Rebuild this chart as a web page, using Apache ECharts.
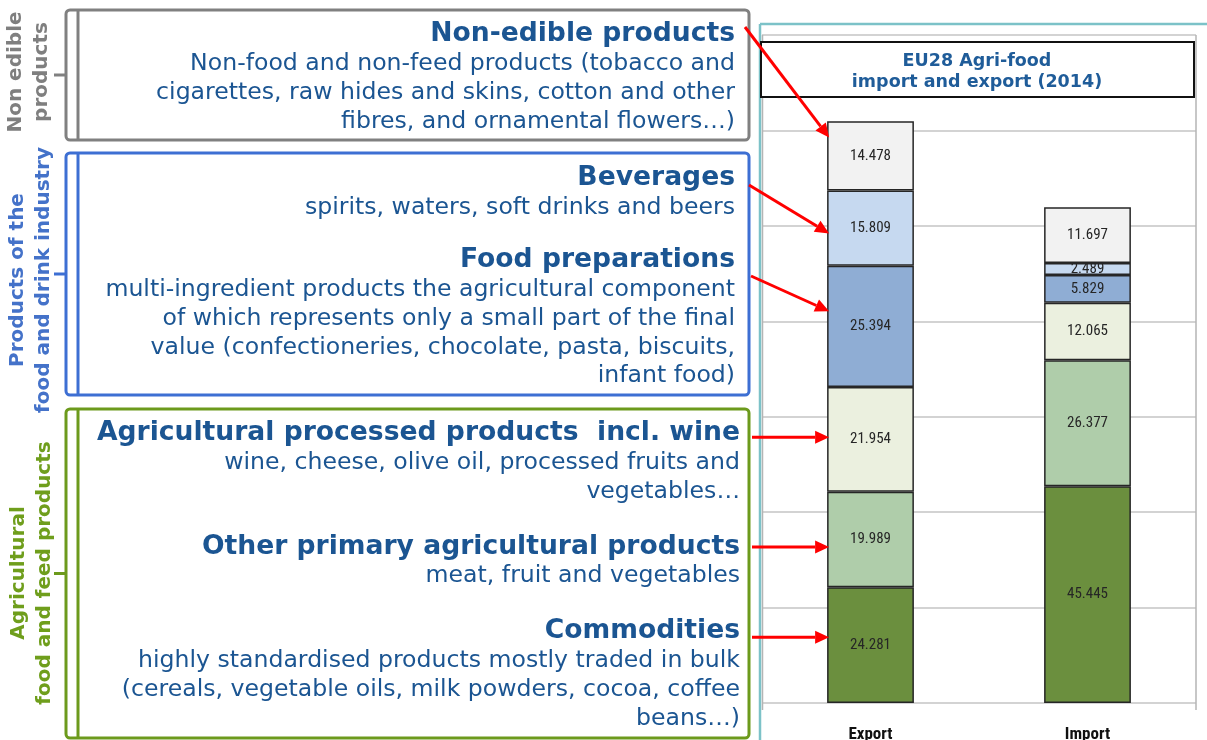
<!DOCTYPE html>
<html>
<head>
<meta charset="utf-8">
<title>EU28 Agri-food import and export (2014)</title>
<script src="https://cdn.jsdelivr.net/npm/echarts@6/dist/echarts.min.js"></script>
<style>
  html, body { margin: 0; padding: 0; background: #fff; }
  #main { width: 1207px; height: 740px; }
</style>
</head>
<body>
<div id="main"></div>
<script>
// data (bn EUR), bottom to top of each stack
var categories = ['Export', 'Import'];
var commodities = [24.281, 45.445];
var otherPrimary = [19.989, 26.377];
var agriProcessed = [21.954, 12.065];
var foodPreparations = [25.394, 5.829];
var beverages = [15.809, 2.489];
var nonEdible = [14.478, 11.697];

var seriesNames = ['Commodities', 'Other primary agricultural products', 'Agricultural processed products',
  'Food preparations', 'Beverages', 'Non-edible products'];
var seriesData = [commodities, otherPrimary, agriProcessed, foodPreparations, beverages, nonEdible];
var seriesColors = ['#6b8f3e', '#afcdaa', '#ebf0df', '#8fadd4', '#c6d9f0', '#f2f2f2'];

// where each red arrow points on the export bar (axis units) and where it starts
var arrowAt = [118.5, 98.4, 82.1, 55.7, 32.7, 13.8];
var arrowFrom = [[745, 27], [749, 185], [751, 276], [752, null], [752, null], [752, null]];

var chart = echarts.init(document.getElementById('main'));

var textBlue = '#1b5592';
var body = 'DejaVu Sans, Verdana, sans-serif';
var narrow = '"Roboto Condensed", "Open Sans Condensed", sans-serif';

var option = {
  animation: false,
  grid: { left: 762, right: 11, top: 35, bottom: 37, outerBoundsMode: 'none', containLabel: false },
  xAxis: {
    type: 'category',
    data: categories,
    axisLine: { show: false },
    axisTick: { show: false },
    axisLabel: {
      margin: 23,
      fontFamily: narrow,
      fontSize: 17,
      fontWeight: 'bold',
      color: '#111'
    }
  },
  yAxis: {
    type: 'value',
    min: 0,
    max: 140,
    interval: 20,
    axisLabel: { show: false },
    axisLine: { show: false },
    axisTick: { show: false },
    splitLine: { lineStyle: { color: '#c4c4c4', width: 1.5 } }
  },
  series: seriesData.map(function (d, i) {
    return {
      name: seriesNames[i],
      type: 'bar',
      stack: 'total',
      barWidth: '40%',
      data: d,
      itemStyle: { color: seriesColors[i], borderColor: '#262626', borderWidth: 1.5 },
      label: {
        show: true,
        position: 'inside',
        formatter: function (p) { return p.value.toFixed(3); },
        fontFamily: narrow,
        fontSize: 15,
        color: '#262626'
      }
    };
  })
};
chart.setOption(option);

function txt(x, y, text, size, bold, color, lh, align) {
  return {
    type: 'text', x: x, y: y, z: 50,
    style: {
      text: text, fill: color, font: (bold ? 'bold ' : '') + size + 'px ' + body,
      textAlign: align || 'right', textVerticalAlign: 'top', lineHeight: lh || size * 1.2
    }
  };
}
function rot(x, y, text, color) {
  return {
    type: 'text', x: x, y: y, rotation: Math.PI / 2, z: 50,
    style: {
      text: text, fill: color, font: 'bold 20px ' + body,
      textAlign: 'center', textVerticalAlign: 'middle', lineHeight: 26
    }
  };
}
function box(y1, y2, color) {
  var mid = (y1 + y2) / 2;
  return [
    { type: 'rect', shape: { x: 66, y: y1, width: 683, height: y2 - y1, r: 4 }, style: { fill: '#fff', stroke: color, lineWidth: 3 } },
    { type: 'line', shape: { x1: 78, y1: y1, x2: 78, y2: y2 }, style: { stroke: color, lineWidth: 3 } },
    { type: 'line', shape: { x1: 54, y1: mid, x2: 66, y2: mid }, style: { stroke: color, lineWidth: 3 } }
  ];
}
function arrow(x1, y1, x2, y2) {
  var dx = x2 - x1, dy = y2 - y1, L = Math.sqrt(dx * dx + dy * dy);
  var ux = dx / L, uy = dy / L, hl = 14, hw = 6.5;
  var bx = x2 - ux * hl, by = y2 - uy * hl;
  return [
    { type: 'line', z: 100, shape: { x1: x1, y1: y1, x2: bx, y2: by }, style: { stroke: '#ff0000', lineWidth: 3 } },
    { type: 'polygon', z: 100, shape: { points: [[x2, y2], [bx - uy * hw, by + ux * hw], [bx + uy * hw, by - ux * hw]] }, style: { fill: '#ff0000' } }
  ];
}

var g = [];
// chart frame
g.push({ type: 'line', shape: { x1: 760, y1: 24, x2: 1207, y2: 24 }, style: { stroke: '#7cc2c8', lineWidth: 2.5 } });
g.push({ type: 'line', shape: { x1: 760, y1: 24, x2: 760, y2: 740 }, style: { stroke: '#7cc2c8', lineWidth: 2.5 } });
g.push({ type: 'line', shape: { x1: 762.5, y1: 35, x2: 762.5, y2: 710 }, style: { stroke: '#b4b4b4', lineWidth: 1.5 } });
g.push({ type: 'line', shape: { x1: 1196, y1: 35, x2: 1196, y2: 710 }, style: { stroke: '#b4b4b4', lineWidth: 1.5 } });
g.push({ type: 'rect', z: 20, shape: { x: 761, y: 42, width: 433, height: 55 }, style: { fill: '#fff', stroke: '#111', lineWidth: 2 } });
g.push(txt(977, 51, 'EU28 Agri-food\nimport and export (2014)', 17.5, true, '#1f5c99', 21, 'center'));

// category boxes
g = g.concat(box(10, 140, '#808080'), box(153, 395, '#3d6fd3'), box(409, 738, '#6c9a1c'));
g.push(rot(29, 72, 'Non edible\nproducts', '#7f7f7f'));
g.push(rot(31, 280, 'Products of the\nfood and drink industry', '#4472c9'));
g.push(rot(32, 573, 'Agricultural\nfood and feed products', '#6f9e1c'));

// descriptions
var hs = 26.6, bs = 23.6, lh = 28.6;
g.push(txt(735, 18, 'Non-edible products', hs, true, textBlue));
g.push(txt(735, 50, 'Non-food and non-feed products (tobacco and\ncigarettes, raw hides and skins, cotton and other\nfibres, and ornamental flowers\u2026)', bs, false, textBlue, lh));
g.push(txt(735, 162, 'Beverages', hs, true, textBlue));
g.push(txt(735, 194, 'spirits, waters, soft drinks and beers', bs, false, textBlue, lh));
g.push(txt(735, 244, 'Food preparations', hs, true, textBlue));
g.push(txt(735, 276, 'multi-ingredient products the agricultural component\nof which represents only a small part of the final\nvalue (confectioneries, chocolate, pasta, biscuits,\ninfant food)', bs, false, textBlue, lh));
g.push(txt(740, 417, 'Agricultural processed products  incl. wine', hs, true, textBlue));
g.push(txt(740, 449, 'wine, cheese, olive oil, processed fruits and\nvegetables\u2026', bs, false, textBlue, lh));
g.push(txt(740, 531, 'Other primary agricultural products', hs, true, textBlue));
g.push(txt(740, 562, 'meat, fruit and vegetables', bs, false, textBlue, lh));
g.push(txt(740, 615, 'Commodities', hs, true, textBlue));
g.push(txt(740, 647, 'highly standardised products mostly traded in bulk\n(cereals, vegetable oils, milk powders, cocoa, coffee\nbeans\u2026)', bs, false, textBlue, lh));

// arrows to the export bar, positioned through the axes
var p0 = chart.convertToPixel({ gridIndex: 0 }, [0, 0]);
var p1 = chart.convertToPixel({ gridIndex: 0 }, [1, 0]);
var barLeft = p0[0] - (p1[0] - p0[0]) * 0.4 / 2;
arrowAt.forEach(function (v, i) {
  var ty = chart.convertToPixel({ gridIndex: 0 }, [0, v])[1];
  var from = arrowFrom[i];
  g = g.concat(arrow(from[0], from[1] == null ? ty : from[1], barLeft + 2, ty));
});

chart.setOption({ graphic: { elements: g } });
</script>
</body>
</html>
